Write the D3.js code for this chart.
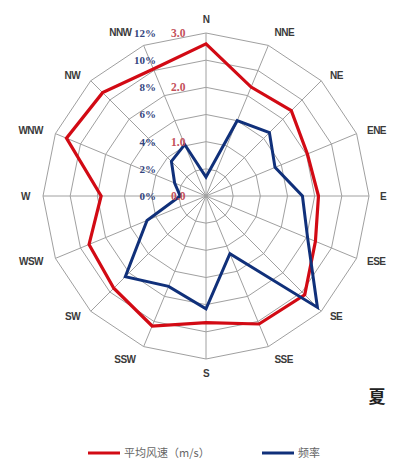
<!DOCTYPE html>
<html>
<head>
<meta charset="utf-8">
<script src="https://cdn.jsdelivr.net/npm/d3@7"></script>
<style>
  body { margin: 0; background: #fff; }
  svg { display: block; }
</style>
</head>
<body>
<div id="chart"></div>
<script>
// data
var directions = ["N","NNE","NE","ENE","E","ESE","SE","SSE","S","SSW","SW","WSW","W","WNW","NW","NNW"];
var speed = [2.80, 2.17, 2.22, 2.02, 2.07, 2.18, 2.57, 2.55, 2.33, 2.59, 2.40, 2.33, 1.93, 2.78, 2.69, 2.53];
var freq = [1.4, 6.0, 6.6, 5.5, 7.1, 8.1, 11.6, 4.6, 8.3, 7.2, 8.4, 4.7, 1.9, 2.5, 3.6, 4.1];
var pctTicks = [0, 2, 4, 6, 8, 10, 12];
var spdTicks = [0, 1, 2, 3];
var seriesNames = ["平均风速（m/s）", "频率"];
var seasonLabel = "夏";

var w = 406, h = 462;
var cx = 206, cy = 196, R = 163;
var red = "#d20a14", navy = "#10307a";

var svg = d3.select("#chart").append("svg")
    .attr("width", w)
    .attr("height", h);

var g = svg.append("g").attr("transform", "translate(" + cx + "," + cy + ")");

// scales
var angle = d3.scaleLinear().domain([0, directions.length]).range([0, 2 * Math.PI]);
var rPct = d3.scaleLinear().domain([0, 12]).range([0, R]);
var rSpd = d3.scaleLinear().domain([0, 3]).range([0, R]);

function px(i, r) { return Math.sin(angle(i)) * r; }
function py(i, r) { return -Math.cos(angle(i)) * r; }

// grid rings (polygons)
var ring = d3.lineRadial()
    .angle(function(d, i){ return angle(i); })
    .radius(function(d){ return d; })
    .curve(d3.curveLinearClosed);

g.selectAll(".ring")
    .data(pctTicks.filter(function(t){ return t > 0; }))
    .enter().append("path")
    .attr("class", "ring")
    .attr("d", function(t){ return ring(directions.map(function(){ return rPct(t); })); })
    .attr("fill", "none")
    .attr("stroke", "#a0a0a0")
    .attr("stroke-width", 1);

// spokes
g.selectAll(".spoke")
    .data(directions)
    .enter().append("line")
    .attr("class", "spoke")
    .attr("x1", 0).attr("y1", 0)
    .attr("x2", function(d, i){ return px(i, R); })
    .attr("y2", function(d, i){ return py(i, R); })
    .attr("stroke", "#a0a0a0")
    .attr("stroke-width", 1);

// direction labels
g.selectAll(".dir")
    .data(directions)
    .enter().append("text")
    .attr("class", "dir")
    .attr("x", function(d, i){
        var s = Math.sin(angle(i)), c = Math.cos(angle(i));
        var nudge = Math.abs(s) < 0.1 ? 0 : (s > 0 ? 3 : (c > 0.9 ? -9 : -5));
        return px(i, R + 8) + nudge;
    })
    .attr("y", function(d, i){ return py(i, R + 8); })
    .attr("text-anchor", function(d, i){
        var s = Math.sin(angle(i));
        return Math.abs(s) < 0.1 ? "middle" : (s > 0 ? "start" : "end");
    })
    .attr("dy", function(d, i){
        var c = Math.cos(angle(i));
        return c > 0.9 ? "-0.2em" : (c < -0.9 ? "0.95em" : "0.35em");
    })
    .attr("font-family", "Liberation Sans, Arial, sans-serif")
    .attr("font-size", 10)
    .attr("font-weight", "bold")
    .attr("letter-spacing", "-0.5px")
    .attr("fill", "#3a3a3a")
    .text(function(d){ return d; });

// series lines
var radar = function(scale){
    return d3.lineRadial()
        .angle(function(d, i){ return angle(i); })
        .radius(function(d){ return scale(d); })
        .curve(d3.curveLinearClosed);
};

g.append("path")
    .attr("d", radar(rSpd)(speed))
    .attr("fill", "none")
    .attr("stroke", red)
    .attr("stroke-width", 3.2);

g.append("path")
    .attr("d", radar(rPct)(freq))
    .attr("fill", "none")
    .attr("stroke", navy)
    .attr("stroke-width", 3);

// axis labels (percent, navy) and speed (red)
g.selectAll(".pct")
    .data(pctTicks)
    .enter().append("text")
    .attr("class", "pct")
    .attr("x", -50)
    .attr("y", function(d){ return -rPct(d); })
    .attr("dy", "0.35em")
    .attr("text-anchor", "end")
    .attr("font-family", "Liberation Serif, Times New Roman, serif")
    .attr("font-size", 11)
    .attr("font-weight", "bold")
    .attr("fill", "#34457e")
    .text(function(d){ return d + "%"; });

g.selectAll(".spd")
    .data(spdTicks)
    .enter().append("text")
    .attr("class", "spd")
    .attr("x", -35)
    .attr("y", function(d){ return -rSpd(d); })
    .attr("dy", "0.35em")
    .attr("text-anchor", "start")
    .attr("font-family", "Liberation Serif, Times New Roman, serif")
    .attr("font-size", 11.5)
    .attr("font-weight", "bold")
    .attr("fill", "#c4505a")
    .text(function(d){ return d.toFixed(1); });

// season label
svg.append("text")
    .attr("x", 377)
    .attr("y", 403)
    .attr("text-anchor", "middle")
    .attr("font-family", "Noto Sans CJK SC, sans-serif")
    .attr("font-size", 17)
    .attr("font-weight", "bold")
    .attr("fill", "#222")
    .text(seasonLabel);

// legend
var legendX = [88, 262];
var legendColors = [red, navy];
var lg = svg.selectAll(".lg")
    .data(seriesNames)
    .enter().append("g")
    .attr("class", "lg")
    .attr("transform", function(d, i){ return "translate(" + legendX[i] + ",453)"; });

lg.append("line")
    .attr("x1", 0).attr("x2", 32)
    .attr("y1", 0).attr("y2", 0)
    .attr("stroke", function(d, i){ return legendColors[i]; })
    .attr("stroke-width", 3);

lg.append("text")
    .attr("x", 36)
    .attr("dy", "0.35em")
    .attr("font-family", "Noto Sans CJK SC, sans-serif")
    .attr("font-size", 11)
    .attr("fill", "#666")
    .text(function(d){ return d; });
</script>
</body>
</html>
